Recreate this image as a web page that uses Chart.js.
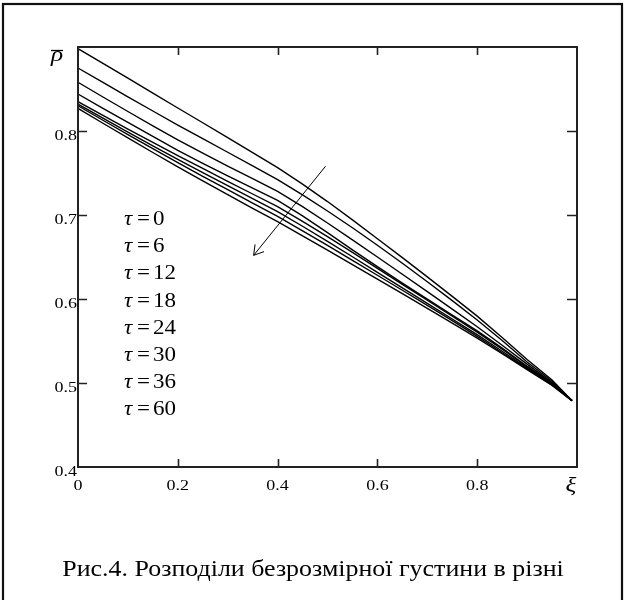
<!DOCTYPE html>
<html><head><meta charset="utf-8">
<script src="https://cdn.jsdelivr.net/npm/chart.js@4/dist/chart.umd.min.js"></script>
<style>html,body{margin:0;padding:0;background:#fff}canvas{display:block}</style>
</head><body>
<canvas id="c" width="626" height="600"></canvas>
<script>
// ξ positions
const xi = [0,0.05,0.1,0.15,0.2,0.25,0.3,0.35,0.4,0.45,0.5,0.55,0.6,0.65,0.7,0.75,0.8,0.85,0.9,0.95,0.99];
// density curves for each τ
const rho_t0  = [0.898,0.8805,0.8629,0.8452,0.8274,0.8098,0.7921,0.7743,0.7563,0.7368,0.7160,0.6942,0.6718,0.6492,0.6263,0.6031,0.5796,0.5541,0.5279,0.5035,0.479];
const rho_t6  = [0.875,0.8578,0.8407,0.8238,0.8070,0.7908,0.7747,0.7585,0.7420,0.7240,0.7048,0.6848,0.6640,0.6425,0.6205,0.5980,0.5750,0.5505,0.5250,0.5020,0.479];
const rho_t12 = [0.858,0.8405,0.8232,0.8062,0.7895,0.7737,0.7583,0.7432,0.7280,0.7100,0.6905,0.6703,0.6500,0.6295,0.6088,0.5880,0.5670,0.5450,0.5225,0.5005,0.479];
const rho_t18 = [0.844,0.8270,0.8102,0.7935,0.7770,0.7615,0.7465,0.7320,0.7175,0.6990,0.6790,0.6585,0.6385,0.6190,0.5998,0.5808,0.5620,0.5415,0.5200,0.4995,0.479];
const rho_t24 = [0.835,0.8185,0.8023,0.7864,0.7708,0.7554,0.7401,0.7250,0.7100,0.6925,0.6742,0.6555,0.6365,0.6175,0.5985,0.5795,0.5605,0.5402,0.5193,0.4990,0.479];
const rho_t30 = [0.832,0.8152,0.7987,0.7824,0.7663,0.7505,0.7349,0.7195,0.7040,0.6866,0.6686,0.6503,0.6318,0.6133,0.5948,0.5762,0.5575,0.5378,0.5180,0.4982,0.479];
const rho_t36 = [0.830,0.8128,0.7958,0.7790,0.7624,0.7461,0.7301,0.7142,0.6983,0.6812,0.6638,0.6461,0.6283,0.6104,0.5925,0.5742,0.5555,0.5360,0.5168,0.4978,0.479];
const rho_t60 = [0.827,0.8092,0.7917,0.7744,0.7573,0.7406,0.7242,0.7080,0.6920,0.6752,0.6582,0.6410,0.6237,0.6063,0.5888,0.5712,0.5535,0.5348,0.5160,0.4972,0.479];
const series = [rho_t0,rho_t6,rho_t12,rho_t18,rho_t24,rho_t30,rho_t36,rho_t60];
const tauLabels = ['0','6','12','18','24','30','36','60'];
const xTickValues = [0,0.2,0.4,0.6,0.8,1];
const yTickValues = [0.4,0.5,0.6,0.7,0.8,0.9];
const xLabelText = ['0','0.2','0.4','0.6','0.8',''];
const yLabelText = ['0.4','0.5','0.6','0.7','0.8',''];
const arrowFrom = [0.496,0.758];
const arrowTo = [0.352,0.652];
const caption = 'Рис.4. Розподіли безрозмірної густини в різні';

const SERIF = '"Liberation Serif","Times New Roman",serif';

function sText(ctx, txt, x, y, font, sx, align){
  ctx.save();
  ctx.translate(x,y);
  ctx.scale(sx,1);
  ctx.font = font;
  ctx.textAlign = align;
  ctx.textBaseline = 'alphabetic';
  ctx.fillText(txt,0,0);
  ctx.restore();
}

const decor = {
  id:'decor',
  afterDraw(chart){
    const {ctx, chartArea:a, scales:{x,y}} = chart;
    ctx.save();
    ctx.strokeStyle = '#222';
    ctx.lineWidth = 2;
    ctx.strokeRect(a.left, a.top, a.right-a.left, a.bottom-a.top);
    // inward ticks
    ctx.lineWidth = 1.6;
    ctx.beginPath();
    xTickValues.slice(1,-1).forEach(v=>{
      const px = Math.round(x.getPixelForValue(v))+0.5;
      ctx.moveTo(px,a.bottom); ctx.lineTo(px,a.bottom-8);
      ctx.moveTo(px,a.top); ctx.lineTo(px,a.top+8);
    });
    yTickValues.slice(1,-1).forEach(v=>{
      const py = Math.round(y.getPixelForValue(v))+0.5;
      ctx.moveTo(a.left,py); ctx.lineTo(a.left+9,py);
      ctx.moveTo(a.right,py); ctx.lineTo(a.right-10,py);
    });
    ctx.stroke();
    // tick labels
    ctx.fillStyle = '#000';
    xTickValues.forEach((v,i)=>{
      if(!xLabelText[i]) return;
      sText(ctx, xLabelText[i], x.getPixelForValue(v), 490, '15px '+SERIF, 1.2, 'center');
    });
    yTickValues.forEach((v,i)=>{
      if(!yLabelText[i]) return;
      sText(ctx, yLabelText[i], 77, y.getPixelForValue(v)+9, '15px '+SERIF, 1.2, 'right');
    });
    // outer frame
    ctx.lineWidth = 2.2;
    ctx.strokeStyle = '#111';
    ctx.strokeRect(3,4,619,640);
    // axis titles
    sText(ctx, 'ρ', 57, 61, 'italic 21px '+SERIF, 1.2, 'center');
    ctx.lineWidth = 1.3;
    ctx.strokeStyle = '#000';
    ctx.beginPath(); ctx.moveTo(51,50.5); ctx.lineTo(63,50.5); ctx.stroke();
    sText(ctx, 'ξ', 571, 492, 'italic 21px '+SERIF, 1.2, 'center');
    // tau labels
    tauLabels.forEach((t,i)=>{
      const by = 225 + 27.2*i;
      sText(ctx, 'τ', 124, by, 'italic 20px '+SERIF, 1.15, 'left');
      sText(ctx, '=', 137, by, '20px '+SERIF, 1.15, 'left');
      sText(ctx, t, 153, by, '20px '+SERIF, 1.15, 'left');
    });
    // arrow
    const x1 = x.getPixelForValue(arrowFrom[0]), y1 = y.getPixelForValue(arrowFrom[1]);
    const x2 = x.getPixelForValue(arrowTo[0]), y2 = y.getPixelForValue(arrowTo[1]);
    const ang = Math.atan2(y1-y2, x1-x2);
    ctx.lineWidth = 1;
    ctx.beginPath();
    ctx.moveTo(x1,y1); ctx.lineTo(x2,y2);
    const L = 11;
    ctx.moveTo(x2,y2); ctx.lineTo(x2+L*Math.cos(ang+0.55), y2+L*Math.sin(ang+0.55));
    ctx.moveTo(x2,y2); ctx.lineTo(x2+L*Math.cos(ang-0.55), y2+L*Math.sin(ang-0.55));
    ctx.stroke();
    // caption
    sText(ctx, caption, 313, 576, '24px '+SERIF, 1.08, 'center');
    ctx.restore();
  }
};

new Chart(document.getElementById('c'), {
  type:'line',
  data:{
    datasets: series.map((s,i)=>({
      label:'τ = '+tauLabels[i],
      data: s.map((v,j)=>({x:xi[j], y:v})),
      borderColor:'#000',
      borderWidth:1.4,
      pointRadius:0,
      tension:0,
      fill:false
    }))
  },
  options:{
    responsive:false,
    animation:false,
    devicePixelRatio:1,
    layout:{padding:{left:0,top:47,right:49,bottom:0}},
    plugins:{legend:{display:false},tooltip:{enabled:false}},
    scales:{
      x:{
        type:'linear', min:0, max:1,
        afterBuildTicks(s){ s.ticks = xTickValues.map(v=>({value:v})); },
        afterFit(s){ s.height = 133; },
        grid:{display:false, drawTicks:false},
        border:{display:false},
        ticks:{display:false}
      },
      y:{
        type:'linear', min:0.4, max:0.9,
        afterBuildTicks(s){ s.ticks = yTickValues.map(v=>({value:v})); },
        afterFit(s){ s.width = 78; },
        grid:{display:false, drawTicks:false},
        border:{display:false},
        ticks:{display:false}
      }
    }
  },
  plugins:[decor]
});
</script>
</body></html>
